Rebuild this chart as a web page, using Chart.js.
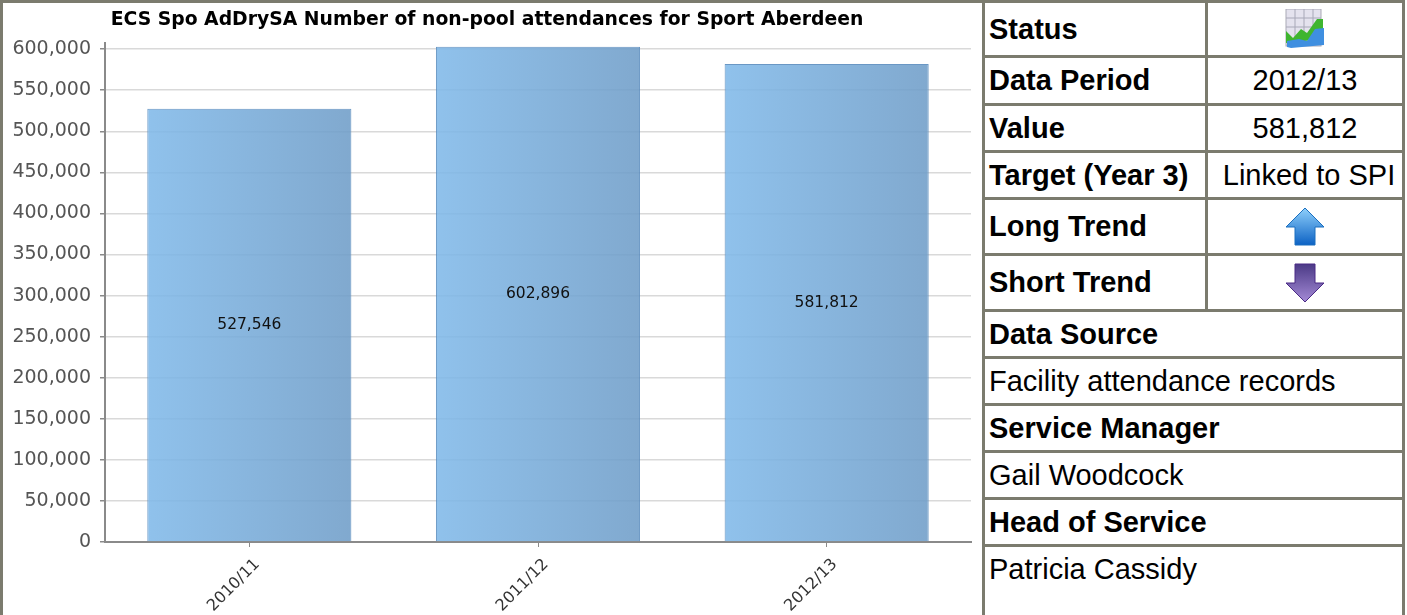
<!DOCTYPE html>
<html>
<head>
<meta charset="utf-8">
<title>ECS Spo AdDrySA</title>
<script src="https://cdn.jsdelivr.net/npm/chart.js@4/dist/chart.umd.min.js"></script>
<style>
    html, body { margin: 0; padding: 0; background: #fff; overflow: hidden; }
    #page { position: relative; width: 1407px; height: 615px; overflow: hidden; }
    #leftBar { position: absolute; left: 0; top: 0; width: 3px; height: 615px; background: #7b7b6e; }
    #topBar { position: absolute; left: 0; top: 0; width: 1405px; height: 3px; background: #7b7b6e; }
    #chartBox { position: absolute; left: 3px; top: 3px; width: 979px; height: 612px; }
    #info {
        position: absolute; left: 982px; top: 0; width: 423px; table-layout: fixed;
        border-collapse: separate; border-spacing: 3px; background: #7b7b6e;
        font-family: "Liberation Sans", Arial, sans-serif; font-size: 29px; color: #000;
    }
    #info td { background: #fff; padding: 0 0 0 4px; overflow: hidden; white-space: nowrap; }
    #info td.c { text-align: center; padding: 0; }
    #info td.shifted { padding-left: 8px; }
    #info td.b { font-weight: bold; }
    #info svg { display: block; margin: 0 auto; }
    #info tr.last td { vertical-align: top; padding-top: 6px; height: 80px; }
</style>
</head>
<body>
<div id="page">
    <div id="chartBox"><canvas id="attendChart" width="979" height="612"></canvas></div>
    <div id="leftBar"></div>
    <div id="topBar"></div>
    <table id="info">
        <colgroup><col style="width:220px"><col style="width:194px"></colgroup>
        <tr style="height:52px"><td class="b">Status</td><td class="c">
            <svg width="40" height="40" viewBox="0 0 40 40">
                <rect x="1" y="0" width="35" height="37" fill="#e4e2ee" stroke="#a9a9b5"/>
                <path d="M10 0V36M19 0V36M28 0V36M1 9H36M1 18H36" stroke="#a8a8b8" fill="none"/>
                <path d="M1 22L8 29L16 20L22 24L32 10L38 10V30L1 34Z" fill="#3fb52f"/>
                <path d="M2 38V32L14 30L22 32L30 20L39 19V36L6 39Z" fill="#3f8fe0"/>
            </svg></td></tr>
        <tr style="height:45px"><td class="b">Data Period</td><td class="c">2012/13</td></tr>
        <tr style="height:44px"><td class="b">Value</td><td class="c">581,812</td></tr>
        <tr style="height:44px"><td class="b">Target (Year 3)</td><td class="c shifted">Linked to SPI</td></tr>
        <tr style="height:53px"><td class="b">Long Trend</td><td class="c">
            <svg width="40" height="40" viewBox="0 0 40 40">
                <defs><linearGradient id="up" x1="0" y1="0" x2="0" y2="1"><stop offset="0" stop-color="#8fd0fb"/><stop offset="1" stop-color="#0d62c4"/></linearGradient></defs>
                <path d="M20 1L39 20H30V38H10V20H1Z" fill="url(#up)" stroke="#1a6fc0"/>
            </svg></td></tr>
        <tr style="height:53px"><td class="b">Short Trend</td><td class="c">
            <svg width="40" height="40" viewBox="0 0 40 40">
                <defs><linearGradient id="down" x1="0" y1="0" x2="0" y2="1"><stop offset="0" stop-color="#4b3a86"/><stop offset="1" stop-color="#a48ad6"/></linearGradient></defs>
                <path d="M10 1H30V20H39L20 39L1 20H10Z" fill="url(#down)" stroke="#4a2a86"/>
            </svg></td></tr>
        <tr style="height:44px"><td class="b" colspan="2">Data Source</td></tr>
        <tr style="height:44px"><td colspan="2">Facility attendance records</td></tr>
        <tr style="height:44px"><td class="b" colspan="2">Service Manager</td></tr>
        <tr style="height:44px"><td colspan="2">Gail Woodcock</td></tr>
        <tr style="height:44px"><td class="b" colspan="2">Head of Service</td></tr>
        <tr class="last"><td colspan="2">Patricia Cassidy</td></tr>
    </table>
</div>
<script>
    const chartTitle = 'ECS Spo AdDrySA Number of non-pool attendances for Sport Aberdeen';
    const categories = ['2010/11', '2011/12', '2012/13'];
    const attendances = [527546, 602896, 581812];
    const yTickValues = [0, 50000, 100000, 150000, 200000, 250000, 300000, 350000, 400000, 450000, 500000, 550000, 600000];
    const yMax = 608000;

    const barShare = 0.707;

    // Left to right shading on each bar
    function barGradient(context) {
        const chart = context.chart;
        const xScale = chart.scales.x;
        const area = chart.chartArea;
        if (!xScale || !area || !Number.isFinite(context.dataIndex)) return 'rgba(128, 185, 233, 0.88)';
        const middle = xScale.getPixelForValue(context.dataIndex);
        const half = (area.right - area.left) / categories.length * barShare / 2;
        if (!Number.isFinite(middle)) return 'rgba(128, 185, 233, 0.88)';
        const gradient = chart.ctx.createLinearGradient(middle - half, 0, middle + half, 0);
        gradient.addColorStop(0, 'rgba(128, 185, 233, 0.88)');
        gradient.addColorStop(1, 'rgba(111, 157, 200, 0.88)');
        return gradient;
    }

    // Value printed in the middle of each bar
    const barValues = {
        id: 'barValues',
        afterDatasetsDraw(chart) {
            const ctx = chart.ctx;
            ctx.save();
            ctx.font = '15.5px "DejaVu Sans"';
            ctx.fillStyle = '#111';
            ctx.textAlign = 'center';
            ctx.textBaseline = 'middle';
            chart.getDatasetMeta(0).data.forEach((bar, i) => {
                ctx.fillText(attendances[i].toLocaleString('en-GB'), bar.x, (bar.y + bar.base) / 2);
            });
            ctx.restore();
        }
    };

    const attendCtx = document.getElementById('attendChart').getContext('2d');
    new Chart(attendCtx, {
        type: 'bar',
        data: {
            labels: categories,
            datasets: [{
                data: attendances,
                backgroundColor: barGradient,
                borderColor: 'rgba(90, 140, 190, 0.9)',
                borderWidth: 1,
                barPercentage: barShare,
                categoryPercentage: 1
            }]
        },
        options: {
            responsive: false,
            animation: false,
            layout: { padding: { top: 0, right: 11, bottom: 0, left: 0 } },
            scales: {
                y: {
                    min: 0,
                    max: yMax,
                    afterFit: axis => { axis.width = 102; },
                    afterBuildTicks: axis => { axis.ticks = yTickValues.map(value => ({ value })); },
                    border: { color: '#8a8a8a', width: 2 },
                    grid: { color: '#d9d9d9', lineWidth: 1.5, tickColor: '#8a8a8a', tickLength: 5 },
                    ticks: {
                        color: '#555',
                        padding: 9,
                        font: { family: '"DejaVu Sans"', size: 19 },
                        callback: value => value.toLocaleString('en-GB')
                    }
                },
                x: {
                    afterFit: axis => { axis.height = 73; },
                    border: { color: '#8a8a8a', width: 2 },
                    grid: { drawOnChartArea: false, offset: false, tickColor: '#8a8a8a', tickLength: 5 },
                    ticks: {
                        color: '#333',
                        minRotation: 45,
                        maxRotation: 45,
                        padding: 8,
                        labelOffset: 8,
                        font: { family: '"DejaVu Sans"', size: 16 }
                    }
                }
            },
            plugins: {
                legend: { display: false },
                tooltip: { enabled: false },
                title: {
                    display: true,
                    text: chartTitle,
                    color: '#000',
                    font: { family: '"DejaVu Sans"', size: 18.8, weight: 'bold' },
                    padding: { top: 6, bottom: 11 }
                }
            }
        },
        plugins: [barValues]
    });
</script>
</body>
</html>
